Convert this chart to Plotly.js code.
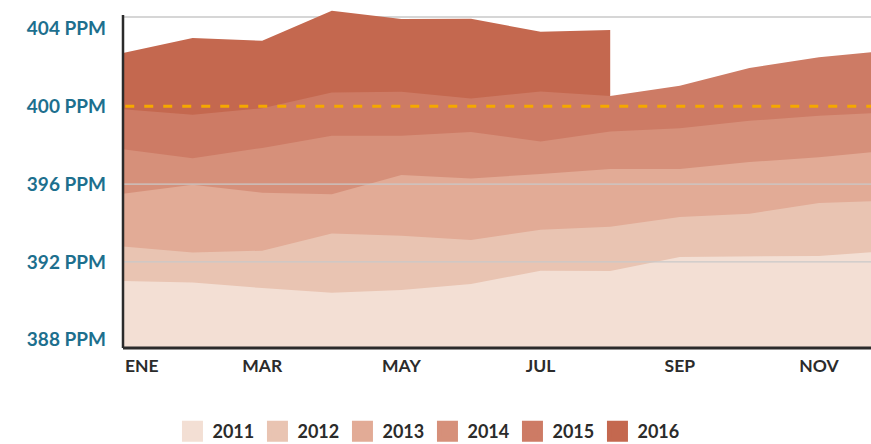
<!DOCTYPE html>
<html><head><meta charset="utf-8">
<script src="https://cdn.plot.ly/plotly-3.0.1.min.js"></script>
<style>html,body{margin:0;padding:0;background:#fff;}#chart{width:871px;height:444px;}</style>
</head><body><div id="chart"></div>
<script>
const months = ['ENE','FEB','MAR','ABR','MAY','JUN','JUL','AGO','SEP','OCT','NOV','DIC'];
const years = ['2011','2012','2013','2014','2015','2016'];
const co2_2011 = [391.02,390.94,390.66,390.42,390.56,390.87,391.55,391.54,392.26,392.28,392.31,392.57];
const co2_2012 = [392.79,392.48,392.58,393.46,393.34,393.13,393.65,393.81,394.31,394.48,395.03,395.14];
const co2_2013 = [395.50,395.96,395.56,395.48,396.47,396.29,396.52,396.77,396.77,397.13,397.38,397.72];
const co2_2014 = [397.79,397.33,397.86,398.48,398.48,398.68,398.19,398.70,398.87,399.25,399.51,399.69];
const co2_2015 = [399.85,399.56,399.90,400.70,400.74,400.40,400.76,400.53,401.05,401.96,402.52,402.86];
const co2_2016 = [402.73,403.50,403.36,404.90,404.48,404.49,403.83,403.91];
const yTicks = [388,392,396,400,404];
const yTickText = yTicks.map(v => v + ' PPM');
const threshold = 400;

const series = [co2_2011, co2_2012, co2_2013, co2_2014, co2_2015, co2_2016];
const colors = ['#f3dfd4','#e9c4b2','#e2ab96','#d6907a','#cd7b65','#c4684f'];
const xIdx = months.map((m, i) => i);

const traces = [];
// draw from newest (top) to oldest, each filled down to the baseline
for (let k = series.length - 1; k >= 0; k--) {
  const ys = series[k];
  traces.push({
    type: 'scatter', mode: 'lines',
    x: xIdx.slice(0, ys.length), y: ys,
    fill: 'tozeroy', fillcolor: colors[k],
    line: {width: 0, color: colors[k]},
    name: years[k], showlegend: false, legendgroup: years[k],
    hovertemplate: years[k] + ' %{text}: %{y} PPM<extra></extra>',
    text: months.slice(0, ys.length)
  });
}
// legend entries (square swatches)
years.forEach((yr, k) => {
  traces.push({
    type: 'scatter', mode: 'markers', x: [null], y: [null],
    name: yr, legendgroup: yr, showlegend: true, hoverinfo: 'skip',
    marker: {symbol: 'square', size: 16, color: colors[k], line: {color: colors[k], width: 5}}
  });
});

const tickIdx = xIdx.filter(i => i % 2 === 0);
const tickVals = tickIdx.map(i => i === 0 ? 0.27 : i);
const tickText = tickIdx.map(i => months[i]);

const plotTop = 5, plotBottom = 348, H = 444;
const topLineY = (plotBottom - 17) / (plotBottom - plotTop);

const shapes = [];
yTicks.filter(v => v > yTicks[0] && v < threshold).forEach(v => {
  shapes.push({type: 'line', xref: 'paper', x0: 0, x1: 1, yref: 'y', y0: v, y1: v,
    line: {color: '#c9c9c9', width: 1.3}, layer: 'above'});
});
shapes.push({type: 'line', xref: 'paper', x0: 0, x1: 1, yref: 'paper', y0: topLineY, y1: topLineY,
  line: {color: '#c9c9c9', width: 1.3}, layer: 'below'});
shapes.push({type: 'line', xref: 'paper', x0: 0.003, x1: 1, yref: 'y', y0: threshold, y1: threshold,
  line: {color: '#f5a800', width: 3, dash: '9px,10px'}, layer: 'above'});
shapes.push({type: 'line', xref: 'paper', x0: 0, x1: 0, yref: 'paper', y0: 0, y1: topLineY + 0.006,
  line: {color: '#2b2b2b', width: 2.5}, layer: 'above'});
shapes.push({type: 'line', xref: 'paper', x0: 0, x1: 1, yref: 'paper', y0: 0, y1: 0,
  line: {color: '#2b2b2b', width: 3}, layer: 'above'});

const layout = {
  width: 871, height: 444,
  margin: {l: 123, r: 0, t: plotTop, b: H - plotBottom, pad: 0},
  paper_bgcolor: '#ffffff', plot_bgcolor: '#ffffff',
  showlegend: true,
  xaxis: {
    range: [0, 10.747], tickvals: tickVals, ticktext: tickText,
    showgrid: false, zeroline: false, showline: false, ticks: '',
    ticklabelstandoff: 5,
    tickfont: {family: 'Lato', size: 17.5, color: '#2b2b2b', weight: 700},
    fixedrange: true
  },
  yaxis: {
    range: [387.58, 405.2], tickvals: yTicks, ticktext: yTickText,
    showgrid: false, zeroline: false, showline: false, ticks: '',
    ticklabelstandoff: 16,
    tickfont: {family: 'Lato', size: 19, color: '#1d6f8e', weight: 700},
    fixedrange: true
  },
  legend: {
    orientation: 'h', xref: 'container', yref: 'container',
    x: 0.198, xanchor: 'left', y: 1 - 413 / H, yanchor: 'top',
    entrywidth: 40, entrywidthmode: 'pixels',
    font: {family: 'Lato', size: 18, color: '#2b2b2b', weight: 700},
    bgcolor: 'rgba(0,0,0,0)'
  },
  shapes: shapes,
  hovermode: 'closest'
};

Plotly.newPlot('chart', traces, layout, {displayModeBar: false, staticPlot: false});
</script>
</body></html>
